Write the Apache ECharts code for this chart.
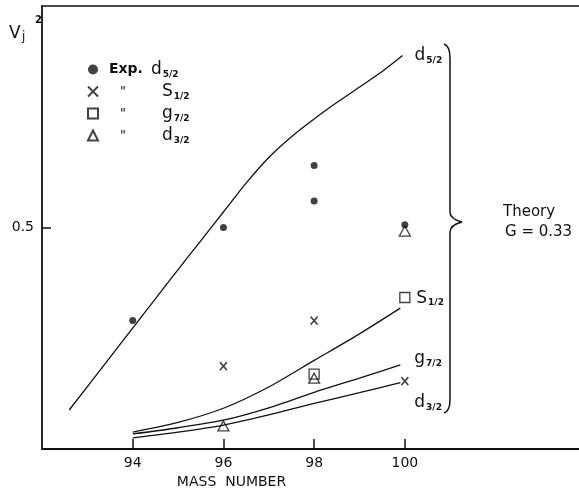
<!DOCTYPE html>
<html>
<head>
<meta charset="utf-8">
<script src="https://cdn.jsdelivr.net/npm/echarts@6/dist/echarts.min.js"></script>
<style>
  html, body { margin: 0; padding: 0; background: #fff; }
  #chart { width: 579px; height: 490px; }
</style>
</head>
<body>
<div id="chart"></div>
<script>
// experimental points, Vj^2 vs mass number
const expMass_d52 = [94, 96, 98, 98, 100];
const expV_d52 = [0.29, 0.50, 0.64, 0.56, 0.506];
const expMass_s12 = [96, 98, 100];
const expV_s12 = [0.187, 0.29, 0.153];
const expMass_g72 = [98, 100];
const expV_g72 = [0.169, 0.342];
const expMass_d32 = [96, 98, 100];
const expV_d32 = [0.052, 0.16, 0.492];

// theory curves (G = 0.33)
const thMass_d52 = [92.6, 93.5, 94, 94.5, 95, 95.5, 96, 96.5, 97, 97.5, 98, 98.5, 99, 99.5, 99.95];
const thV_d52 = [0.088, 0.207, 0.273, 0.339, 0.405, 0.47, 0.535, 0.60, 0.658, 0.705, 0.745, 0.782, 0.817, 0.852, 0.888];
const thMass = [94, 95, 96, 97, 98, 99, 99.9];
const thV_s12 = [0.038, 0.06, 0.092, 0.14, 0.2, 0.26, 0.318];
const thV_g72 = [0.034, 0.048, 0.065, 0.093, 0.128, 0.16, 0.19];
const thV_d32 = [0.025, 0.038, 0.054, 0.077, 0.103, 0.127, 0.15];

const massTicks = [94, 96, 98, 100];
const vTicks = [0.5];

const F = 'DejaVu Sans';
const INK = '#111';

function pairs(xs, ys) { return xs.map((x, i) => [x, ys[i]]); }

const rich = {
  m: { fontSize: 17, fontFamily: F, color: INK },
  f: { fontSize: 9, fontFamily: F, fontWeight: 'bold', color: INK, padding: [10, 0, 0, 1] },
  e: { fontSize: 14, fontFamily: F, fontWeight: 'bold', color: INK, width: 42 },
  q: { fontSize: 13, fontFamily: F, color: INK, width: 42, padding: [0, 0, 0, 11] }
};

const legendText = {
  'd52': '{e|Exp.}{m|d}{f|5/2}',
  's12': '{q|"}{m|S}{f|1/2}',
  'g72': '{q|"}{m|g}{f|7/2}',
  'd32': '{q|"}{m|d}{f|3/2}'
};

function theory(name, xs, ys, text, offset) {
  return {
    name: 'th_' + name, type: 'line', smooth: 0.25, symbol: 'none', silent: true,
    data: pairs(xs, ys),
    lineStyle: { color: INK, width: 1.3 },
    endLabel: { show: true, formatter: text, rich: rich, offset: offset, distance: 2 }
  };
}

// brace pieces (annotation only)
function seg(x1, y1, x2, y2) {
  return { type: 'line', silent: true, shape: { x1, y1, x2, y2 }, style: { stroke: INK, lineWidth: 1.5 } };
}
function curve(x1, y1, cx, cy, x2, y2) {
  return { type: 'bezierCurve', silent: true, shape: { x1, y1, x2, y2, cpx1: cx, cpy1: cy }, style: { stroke: INK, fill: null, lineWidth: 1.5 } };
}

function run() {
  const chart = echarts.init(document.getElementById('chart'));
  chart.setOption({
    animation: false,
    backgroundColor: '#fff',
    grid: { left: 42, right: 0, top: 6, bottom: 41, outerBoundsMode: 'none' },
    xAxis: [{
      type: 'value', min: 92, max: 103.84,
      axisLine: { show: true, lineStyle: { color: INK, width: 1.8 } },
      axisTick: { show: true, inside: true, length: 10, customValues: massTicks, lineStyle: { color: INK, width: 1.5 } },
      axisLabel: { customValues: massTicks, margin: 7, fontFamily: F, fontSize: 14, color: INK },
      splitLine: { show: false },
      name: 'MASS  NUMBER', nameLocation: 'middle', nameGap: 22,
      nameTextStyle: { fontFamily: F, fontSize: 14, color: INK, padding: [0, 158, 0, 0] }
    }, {
      type: 'value', position: 'top', min: 92, max: 103.84,
      axisLine: { show: true, lineStyle: { color: INK, width: 1.5 } },
      axisTick: { show: false }, axisLabel: { show: false }, splitLine: { show: false }
    }],
    yAxis: {
      type: 'value', min: 0, max: 1,
      axisLine: { show: true, lineStyle: { color: INK, width: 1.8 } },
      axisTick: { show: true, inside: true, length: 9, customValues: vTicks, lineStyle: { color: INK, width: 1.5 } },
      axisLabel: { customValues: vTicks, margin: 8, fontFamily: F, fontSize: 14, color: INK },
      splitLine: { show: false }
    },
    legend: {
      orient: 'vertical', left: 82, top: 56, itemWidth: 10, itemHeight: 10, itemGap: 4,
      selectedMode: false,
      data: ['d52', 's12', 'g72', 'd32'],
      formatter: n => legendText[n],
      textStyle: { rich: rich, padding: [0, 0, 0, 6] }
    },
    series: [
      theory('d52', thMass_d52, thV_d52, '{m|d}{f|5/2}', [10, 0]),
      theory('s12', thMass, thV_s12, '{m|S}{f|1/2}', [14, -10]),
      theory('g72', thMass, thV_g72, '{m|g}{f|7/2}', [12, -6]),
      theory('d32', thMass, thV_d32, '{m|d}{f|3/2}', [12, 20]),
      {
        name: 'd32', type: 'scatter', symbol: 'triangle', symbolSize: [11, 10], silent: true,
        data: pairs(expMass_d32, expV_d32),
        itemStyle: { color: '#fff', borderColor: INK, borderWidth: 1.3 }
      },
      {
        name: 'g72', type: 'scatter', symbol: 'rect', symbolSize: 10, silent: true,
        data: pairs(expMass_g72, expV_g72),
        itemStyle: { color: 'rgba(255,255,255,0)', borderColor: INK, borderWidth: 1.3 }
      },
      {
        name: 's12', type: 'scatter', symbol: 'path://M0,0L10,10M10,0L0,10', symbolSize: [7, 8], silent: true,
        data: pairs(expMass_s12, expV_s12),
        itemStyle: { color: 'rgba(0,0,0,0)', borderColor: INK, borderWidth: 1.6 }
      },
      {
        name: 'd52', type: 'scatter', symbol: 'circle', symbolSize: 7, silent: true, z: 5,
        data: pairs(expMass_d52, expV_d52),
        itemStyle: { color: INK }
      }
    ],
    graphic: [
      curve(444, 44, 450, 46, 450, 58),
      seg(450, 58, 450, 212),
      curve(450, 212, 450, 219, 462, 222),
      curve(462, 222, 450, 225, 450, 232),
      seg(450, 232, 450, 400),
      curve(450, 400, 450, 411, 444, 413),
      { type: 'text', left: 503, top: 205, style: { text: 'Theory', font: '15px "DejaVu Sans"', fill: INK } },
      { type: 'text', left: 505, top: 225, style: { text: 'G = 0.33', font: '15px "DejaVu Sans"', fill: INK } },
      // y axis title: V_j^2
      { type: 'text', left: 9, top: 25, silent: true, style: { text: 'V', font: '17px "DejaVu Sans"', fill: INK } },
      { type: 'text', left: 22, top: 31, silent: true, style: { text: 'j', font: '12px "DejaVu Sans"', fill: INK } },
      { type: 'text', left: 35, top: 15, silent: true, style: { text: '2', font: 'bold 10px "DejaVu Sans"', fill: INK } }
    ]
  });
}

if (document.readyState !== 'loading') {
  run();
} else {
  document.addEventListener('DOMContentLoaded', run);
}
</script>
</body>
</html>
